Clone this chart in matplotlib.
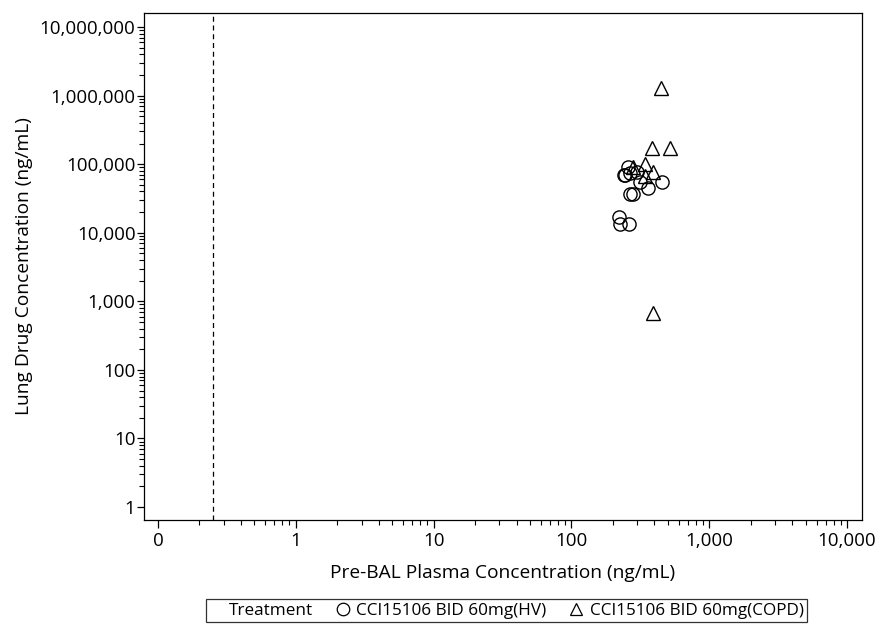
import numpy as np
import matplotlib.pyplot as plt
from matplotlib.lines import Line2D
from matplotlib.ticker import FixedLocator, NullFormatter

plt.rcParams['font.family'] = ['Open Sans', 'DejaVu Sans']

# HV group (circles)
hv_plasma = [258, 245, 266, 299, 315, 359, 454, 266, 280, 221, 225, 262, 240]
hv_lung = [90400, 69100, 73900, 76400, 54700, 44700, 54700, 36500, 36500, 16900, 13300, 13300, 70000]

# COPD group (triangles)
copd_plasma = [447, 385, 520, 390, 280, 342, 390, 342]
copd_lung = [1280000, 171000, 171000, 673, 90400, 102000, 76400, 66900]

ref_line = 0.25  # dashed reference

x_ticks = [0.1, 1, 10, 100, 1000, 10000]
x_labels = ['0', '1', '10', '100', '1,000', '10,000']
y_ticks = [1, 10, 100, 1000, 10000, 100000, 1000000, 10000000]
y_labels = ['1', '10', '100', '1,000', '10,000', '100,000', '1,000,000', '10,000,000']


def minor_between(majors):
    out = []
    for m in majors[:-1]:
        out += [m * k for k in range(2, 10)]
    return out


fig = plt.figure(figsize=(8.77, 6.24), dpi=100)
ax = fig.add_axes([0.164, 0.1667, 0.819, 0.8123])

ax.plot(hv_plasma, hv_lung, linestyle='none', marker='o', markersize=9.5,
        markerfacecolor='none', markeredgecolor='black', markeredgewidth=1.0)
ax.plot(copd_plasma, copd_lung, linestyle='none', marker='^', markersize=10,
        markerfacecolor='none', markeredgecolor='black', markeredgewidth=1.0)
ax.axvline(ref_line, color='black', linestyle=(0, (4, 3)), linewidth=0.9)

ax.set_xscale('log')
ax.set_yscale('log')
ax.set_xlim(0.079, 12850)
ax.set_ylim(0.646, 1.6e7)

ax.xaxis.set_major_locator(FixedLocator(x_ticks))
ax.set_xticklabels(x_labels)
ax.yaxis.set_major_locator(FixedLocator(y_ticks))
ax.set_yticklabels(y_labels)
ax.xaxis.set_minor_locator(FixedLocator(minor_between(x_ticks)))
ax.yaxis.set_minor_locator(FixedLocator(minor_between(y_ticks)))
ax.xaxis.set_minor_formatter(NullFormatter())
ax.yaxis.set_minor_formatter(NullFormatter())

ax.tick_params(which='major', direction='out', length=6, width=0.9, labelsize=13.5,
               color='black', pad=3)
ax.tick_params(axis='y', which='major', length=5, pad=1)
ax.tick_params(which='minor', direction='out', length=3.5, width=0.8, color='black')
for s in ax.spines.values():
    s.set_linewidth(0.9)

ax.set_xlabel('Pre-BAL Plasma Concentration (ng/mL)', fontsize=13.8, labelpad=10)
ax.set_ylabel('Lung Drug Concentration (ng/mL)', fontsize=13.8, labelpad=5)

handles = [
    Line2D([], [], linestyle='none', marker='none'),
    Line2D([], [], linestyle='none', marker='o', markersize=9, markerfacecolor='none',
           markeredgecolor='black', markeredgewidth=0.9),
    Line2D([], [], linestyle='none', marker='^', markersize=9, markerfacecolor='none',
           markeredgecolor='black', markeredgewidth=0.9),
]
labels = ['Treatment', 'CCI15106 BID 60mg(HV)', 'CCI15106 BID 60mg(COPD)']
leg = fig.legend(handles, labels, loc='lower center', bbox_to_anchor=(0.578, 0.0), ncol=3,
                 frameon=True, fancybox=False, edgecolor='black', fontsize=12.3,
                 handlelength=0.6, handletextpad=0.5, columnspacing=1.45,
                 borderpad=0.2, borderaxespad=0.1)
leg.get_frame().set_linewidth(0.9)

fig.savefig('out.png', dpi=100)
